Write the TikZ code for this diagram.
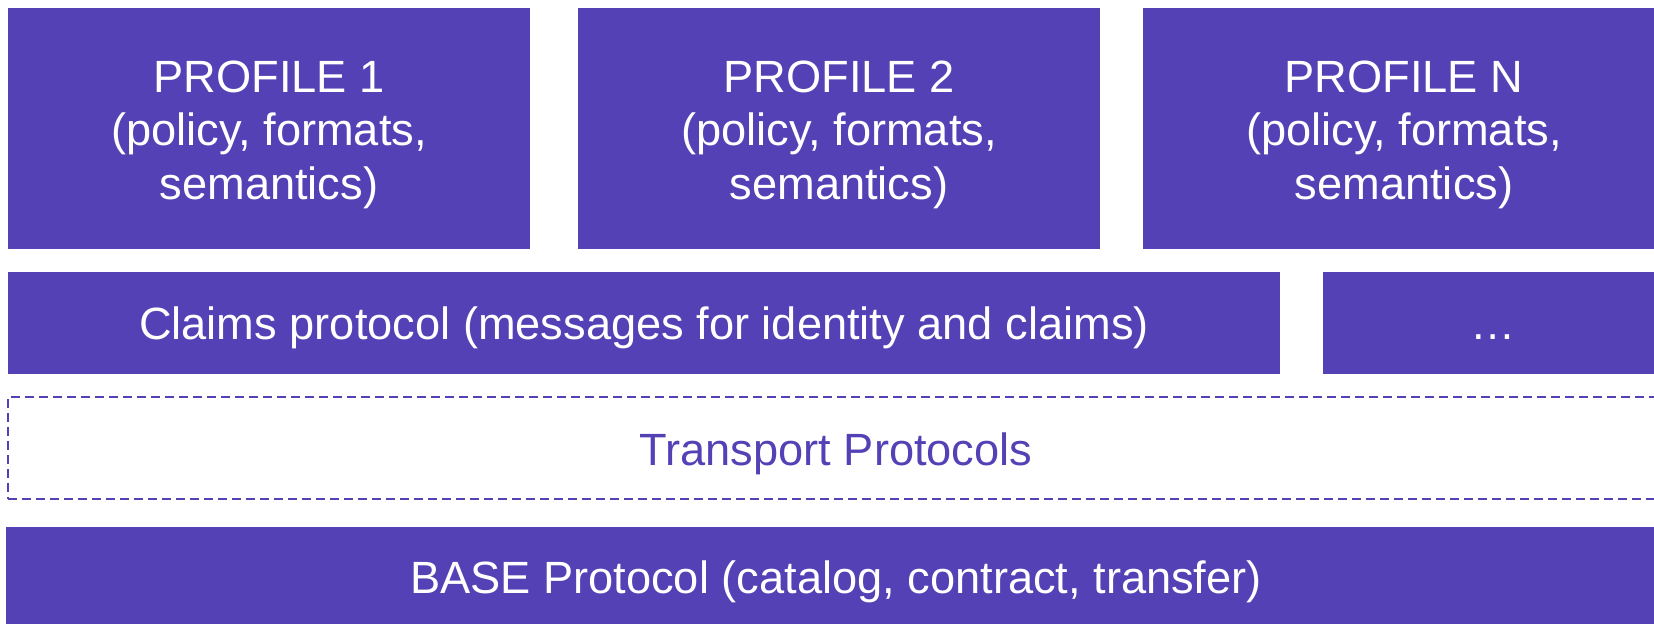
\documentclass[tikz,border=0pt]{standalone}
\usepackage{fontspec}
\setmainfont{Liberation Sans}
\definecolor{pfill}{HTML}{5441B5}
\newcommand{\bigfont}{\fontsize{22.6pt}{27.5pt}\selectfont}
\tikzset{
  blk/.style={rectangle, fill=pfill, draw=none, inner sep=0pt},
  prof/.style={blk, minimum width=261pt, minimum height=120.25pt},
  dashbox/.style={rectangle, draw=pfill, line width=1.2pt, dash pattern=on 4.3pt off 2.7pt, inner sep=0pt},
  txt/.style={anchor=base, inner sep=0pt, text=white, font=\bigfont},
  ptxt/.style={txt, text=pfill}
}
\begin{document}
\begin{tikzpicture}[x=0.5pt,y=-0.5pt]
\useasboundingbox (0,0) rectangle (1654,624);
\clip (0,0) rectangle (1654,624);
% profile boxes
\node[prof] (p1) at (269,128.75) {};
\node[prof] (p2) at (839,128.75) {};
\node[prof] (pn) at (1404,128.75) {};
\foreach \b/\t in {p1/PROFILE 1, p2/PROFILE 2, pn/PROFILE N} {
  \node[txt] (\b a) at (\b.center |- 0,92.3) {\t};
  \node[txt] (\b b) at (\b.center |- 0,145.8) {(policy, formats,};
  \node[txt] (\b c) at (\b.center |- 0,199.2) {semantics)};
}
% claims row
\node[blk, minimum width=636pt, minimum height=51.25pt] (claims) at (644,323.25) {};
\node[txt] (claimst) at (claims.center |- 0,339.5) {Claims protocol (messages for identity and claims)};
\node[blk, minimum width=170pt, minimum height=51.25pt] (dots) at (1493,323.25) {};
\node[txt] (dotst) at (dots.center |- 0,340) {…};
% transport
\node[dashbox, minimum width=828pt, minimum height=51pt] (transport) at (836,448) {};
\node[ptxt] (transportt) at (transport.center |- 0,465.7) {Transport Protocols};
% base
\node[blk, minimum width=830pt, minimum height=53pt] (base) at (836,580) {};
\node[txt] (baset) at (base.center |- 0,594) {BASE Protocol (catalog, contract, transfer)};
\end{tikzpicture}
\end{document}
